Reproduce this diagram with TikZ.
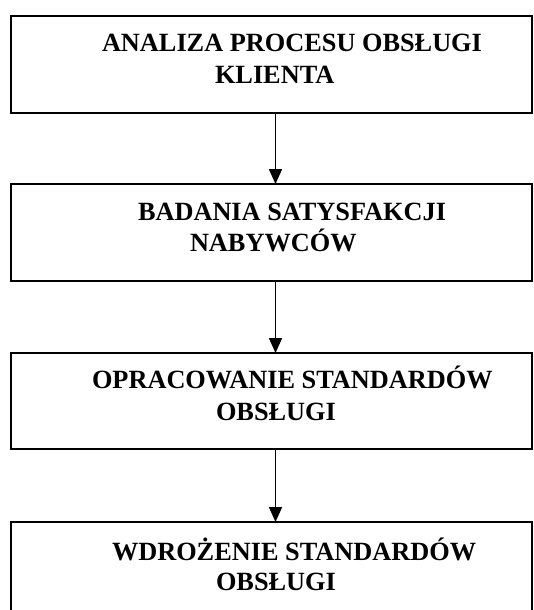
\documentclass[tikz,border=0pt]{standalone}
\usepackage{fontspec}
\setmainfont{Liberation Serif}
\usetikzlibrary{arrows.meta}
\begin{document}
\begin{tikzpicture}[x=1pt,y=-1pt,
  stepbox/.style={draw=black, line width=1.5pt, rectangle, anchor=north west,
    minimum width=521pt, inner sep=0pt, outer sep=0pt},
  label/.style={anchor=base west, inner sep=0pt, outer sep=0pt,
    font=\bfseries\fontsize{26.3}{31}\selectfont},
  flow/.style={line width=1.6pt, -{Triangle[length=15pt,width=13pt]}}]
\useasboundingbox (0,0) rectangle (533,610);
\node[stepbox, minimum height=97pt] (b1) at (11,16) {};
\node[stepbox, minimum height=97pt] (b2) at (11,184) {};
\node[stepbox, minimum height=96pt] (b3) at (11,353) {};
\node[stepbox, minimum height=120pt] (b4) at (11,522) {};
\node[label] (t1a) at (102,52) {ANALIZA PROCESU OBSŁUGI};
\node[label] (t1b) at (215,84) {KLIENTA};
\node[label] (t2a) at (138,220) {BADANIA SATYSFAKCJI};
\node[label] (t2b) at (190,251) {NABYWCÓW};
\node[label] (t3a) at (92,388) {OPRACOWANIE STANDARDÓW};
\node[label] (t3b) at (216,420) {OBSŁUGI};
\node[label] (t4a) at (112,560) {WDROŻENIE STANDARDÓW};
\node[label] (t4b) at (216,590) {OBSŁUGI};
\coordinate (ax) at (275.5,0);
\draw[flow] (b1.south -| ax) -- (b2.north -| ax);
\draw[flow] (b2.south -| ax) -- (b3.north -| ax);
\draw[flow] (b3.south -| ax) -- (b4.north -| ax);
\end{tikzpicture}
\end{document}
